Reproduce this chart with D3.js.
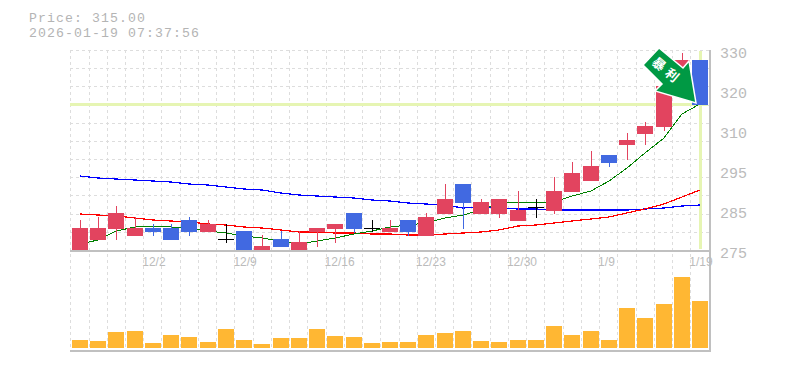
<!DOCTYPE html>
<html>
<head>
<meta charset="utf-8">
<script src="https://cdn.jsdelivr.net/npm/d3@7"></script>
<style>
  html, body { margin: 0; padding: 0; background: #fff; }
  svg { display: block; }
  .mono { font-family: "Liberation Mono", monospace; fill: #bbb; font-size: 15px; }
  .head { font-family: "Liberation Mono", monospace; fill: #b4b4b4; font-size: 13.2px; letter-spacing: 1.08px; }
</style>
</head>
<body>
<div id="chart"></div>
<script>
// Values
const priceTicks = [275, 285, 295, 310, 320, 330]
const tickIndexes = [4, 9, 14, 19, 24, 29, 34]
const tickLabels = ["12/2", "12/9", "12/16", "12/23", "12/30", "1/9", "1/19"]

const opens = [275, 277.5, 280.25, 278.5, 280.5, 280.5, 282.5, 279.5, 277.7, 279.75, 274.75, 277.75, 274.75, 279.5, 280.25, 284.25, 280.4, 279.5, 282.5, 278.5, 284, 291.5, 284, 284, 282.25, 285.8, 284.75, 289.5, 292.25, 300.6, 304.4, 308.5, 310.75, 319.5, 327.5]
const highs = [282.5, 283.25, 286, 283.25, 281.5, 281.5, 283.25, 282.5, 281.5, 279.75, 278.75, 279.75, 279.75, 280.5, 281.5, 284.25, 282.5, 282.5, 282.5, 284.25, 291.5, 291.5, 287.75, 287.75, 289.75, 287.75, 293.25, 298, 302.1, 300.6, 308.9, 312, 321, 329.25, 327.5]
const lows = [275, 277.5, 277.5, 278.5, 278.5, 277.5, 278.5, 279.5, 276.8, 274.75, 274.75, 275.75, 274.75, 275.75, 276.75, 279.25, 279.5, 279.5, 278.5, 278.5, 284, 280.25, 284, 283, 282.25, 283.1, 284, 289.5, 292.25, 296.1, 298.75, 304.4, 309.6, 319.5, 316.25]
const closes = [280.5, 280.5, 284.25, 280.5, 279.5, 277.5, 279.5, 281.5, 277.7, 274.75, 276, 275.75, 277, 280.5, 281.5, 280.25, 280.4, 280.5, 279.5, 283.25, 287.75, 286.75, 287, 287.75, 285, 285.8, 289.75, 294.25, 296.5, 297.6, 306.25, 311, 321, 327.5, 316.25]

const maLong = [293.5, 293, 292.75, 292.5, 292.25, 292, 291.5, 291.25, 290.75, 290.25, 290, 289.25, 288.75, 288.5, 288.25, 288, 287.5, 287.25, 286.75, 286.5, 286.25, 285.5, 285.75, 285.5, 285.25, 285.25, 285, 285, 285, 285, 285, 285.25, 285.5, 286, 286.25]
const maMid = [284, 283.75, 283.5, 283, 282.5, 282.25, 282, 281.5, 281.25, 280.75, 280.5, 280, 279.5, 279.5, 279.25, 279.25, 279, 279, 278.75, 278.75, 279, 279.25, 279.5, 280, 281, 281.25, 281.75, 282.25, 282.75, 283.25, 284.25, 285.25, 286.5, 288.25, 290]
const maShort = [276.5, 277.5, 279.75, 280.75, 281, 280.75, 280.5, 279.75, 279.25, 278.5, 278, 277.25, 276.5, 277.25, 278, 279, 279.75, 280.75, 281.25, 281.75, 283, 283.75, 285, 286.75, 287, 286.75, 287, 288.5, 289.75, 292.25, 295.75, 301.4, 307, 314, 316.5]

const volumes = [8, 7, 16, 17, 5, 13, 11, 6, 19, 8, 4, 10, 10, 19, 12, 11, 5, 6, 6, 13, 15, 17, 7, 6, 8, 8, 22, 13, 17, 8, 40, 30, 44, 71, 47]

const levelPrice = 316.5
const priceText = "Price: 315.00"
const timeText = "2026-01-19 07:37:56"

const width = 785
const height = 370
const left = 70.3
const right = 710
const priceTop = 50
const priceBottom = 250
const volTop = 277
const volBottom = 348
const volAxis = 350
const candleWidth = 16

const svg = d3.select("#chart").append("svg").attr("width", width).attr("height", height)

// Scales
const x = d3.scaleBand().domain(d3.range(closes.length)).range([left, left + 18.235 * closes.length])
// Tick labels are evenly spaced but not evenly valued, so the price scale is piecewise
const y = d3.scaleLinear().domain(priceTicks).range(d3.range(priceTicks.length).map((i) => priceBottom - i * 40))
const yVol = d3.scaleLinear().domain([0, d3.max(volumes)]).range([volBottom, volTop])
const left16 = (i) => Math.round(x(i) + 1.7)
const mid = (i) => left16(i) + candleWidth / 2

// Grid
const grid = svg.append("g").attr("stroke", "#ddd").attr("stroke-dasharray", "3,3").attr("shape-rendering", "crispEdges")
grid
  .selectAll(".v")
  .data(d3.range(closes.length))
  .enter()
  .append("line")
  .attr("x1", (i) => Math.round(x(i)) + 0.5)
  .attr("x2", (i) => Math.round(x(i)) + 0.5)
  .attr("y1", priceTop)
  .attr("y2", volAxis)
grid
  .selectAll(".h")
  .data(d3.range(11))
  .enter()
  .append("line")
  .attr("x1", left)
  .attr("x2", right)
  .attr("y1", (i) => Math.round(priceTop + (i * 200) / 11) + 0.5)
  .attr("y2", (i) => Math.round(priceTop + (i * 200) / 11) + 0.5)

// Current price guides
const guides = svg.append("g").attr("stroke", "#e6f5b3").attr("stroke-width", 3).attr("shape-rendering", "crispEdges")
guides.append("line").attr("x1", left).attr("x2", right - 2).attr("y1", y(levelPrice)).attr("y2", y(levelPrice))
guides.append("line").attr("x1", mid(34)).attr("x2", mid(34)).attr("y1", priceTop + 1).attr("y2", priceBottom - 1.5)

// Moving averages
const line = d3
  .line()
  .x((d, i) => mid(i))
  .y((d) => y(d))

const maLines = [
  { values: maLong, color: "#0000ff", w: 1.2 },
  { values: maMid, color: "#ff0000", w: 1.2 },
  { values: maShort, color: "#008000", w: 1 },
]
maLines.forEach((m) => {
  svg
    .append("path")
    .attr("d", line(m.values))
    .attr("fill", "none")
    .attr("stroke", m.color)
    .attr("stroke-width", m.w)
    .attr("shape-rendering", "crispEdges")
})

// Candles
const candleColor = (i) => (closes[i] > opens[i] ? "#e2445f" : closes[i] < opens[i] ? "#4169e1" : "#000")
const candles = svg
  .append("g")
  .attr("shape-rendering", "crispEdges")
  .selectAll(".candle")
  .data(d3.range(closes.length))
  .enter()
  .append("g")
  .attr("class", "candle")

candles
  .append("line")
  .attr("x1", (i) => mid(i) + 0.5)
  .attr("x2", (i) => mid(i) + 0.5)
  .attr("y1", (i) => y(highs[i]))
  .attr("y2", (i) => y(lows[i]))
  .attr("stroke", candleColor)

candles
  .filter((i) => closes[i] !== opens[i])
  .append("rect")
  .attr("x", left16)
  .attr("y", (i) => Math.round(y(Math.max(opens[i], closes[i]))))
  .attr("width", candleWidth)
  .attr("height", (i) => Math.round(Math.abs(y(opens[i]) - y(closes[i]))))
  .attr("fill", candleColor)

candles
  .filter((i) => closes[i] === opens[i])
  .append("line")
  .attr("x1", left16)
  .attr("x2", (i) => left16(i) + candleWidth)
  .attr("y1", (i) => Math.round(y(closes[i])) + 0.5)
  .attr("y2", (i) => Math.round(y(closes[i])) + 0.5)
  .attr("stroke", "#000")

// Volume bars
svg
  .append("g")
  .selectAll("rect")
  .data(volumes)
  .enter()
  .append("rect")
  .attr("x", (d, i) => left16(i))
  .attr("y", (d) => yVol(d))
  .attr("width", candleWidth)
  .attr("height", (d) => volBottom - yVol(d))
  .attr("fill", "#ffb733")

// Frame
const frame = svg.append("g").attr("stroke", "#c0c0c0").attr("stroke-width", 2).attr("shape-rendering", "crispEdges")
frame.append("line").attr("x1", left).attr("x2", right + 1).attr("y1", priceBottom + 1).attr("y2", priceBottom + 1)
frame.append("line").attr("x1", left).attr("x2", right + 1).attr("y1", volAxis + 1).attr("y2", volAxis + 1)
frame.append("line").attr("x1", right).attr("x2", right).attr("y1", priceTop).attr("y2", volAxis + 1)

// Axes
const yAxis = svg
  .append("g")
  .attr("transform", `translate(${right},3)`)
  .call(d3.axisRight(y).tickValues(priceTicks).tickSize(0).tickPadding(10))
yAxis.select(".domain").remove()
yAxis.selectAll("text").attr("class", "mono").attr("fill", "#bbb")

const xAxis = svg
  .append("g")
  .attr("transform", `translate(0,${priceBottom + 1})`)
  .call(
    d3
      .axisBottom(x)
      .tickValues(tickIndexes)
      .tickSize(0)
      .tickPadding(6)
      .tickFormat((d, i) => tickLabels[i])
  )
xAxis.select(".domain").remove()
xAxis
  .selectAll("text")
  .attr("x", -x.bandwidth() / 2 - 1)
  .attr("text-anchor", "start")
  .attr("fill", "#bbb")
  .style("font-family", '"Liberation Sans", sans-serif')
  .style("font-size", "12px")

// Header text
svg.append("text").attr("class", "head").attr("x", 29).attr("y", 22).text(priceText)
svg.append("text").attr("class", "head").attr("x", 29).attr("y", 37).text(timeText)

// Arrow badge, hung from the last candle's price
const tipX = mid(34) - 4
const tipY = y(levelPrice) - 1
const arrowShape = [[-37, -55], [-53, -38], [-34, -19], [-41, -12], [0, 0], [-7, -42], [-13, -35]]
const arrow = svg.append("g").attr("transform", `translate(${tipX},${tipY})`)
arrow
  .append("path")
  .attr("d", d3.line()(arrowShape) + "Z")
  .attr("fill", "#009944")
  .attr("stroke", "#fff")
  .attr("stroke-width", 1.5)
  .attr("stroke-linejoin", "miter")
arrow
  .append("text")
  .attr("transform", "translate(-29,-32) rotate(40)")
  .attr("text-anchor", "middle")
  .attr("dy", "0.35em")
  .attr("fill", "#fff")
  .style("font-family", '"Noto Sans CJK JP", sans-serif')
  .style("font-size", "13px")
  .style("font-weight", "bold")
  .style("letter-spacing", "4px")
  .text("暴利")
</script>
</body>
</html>
